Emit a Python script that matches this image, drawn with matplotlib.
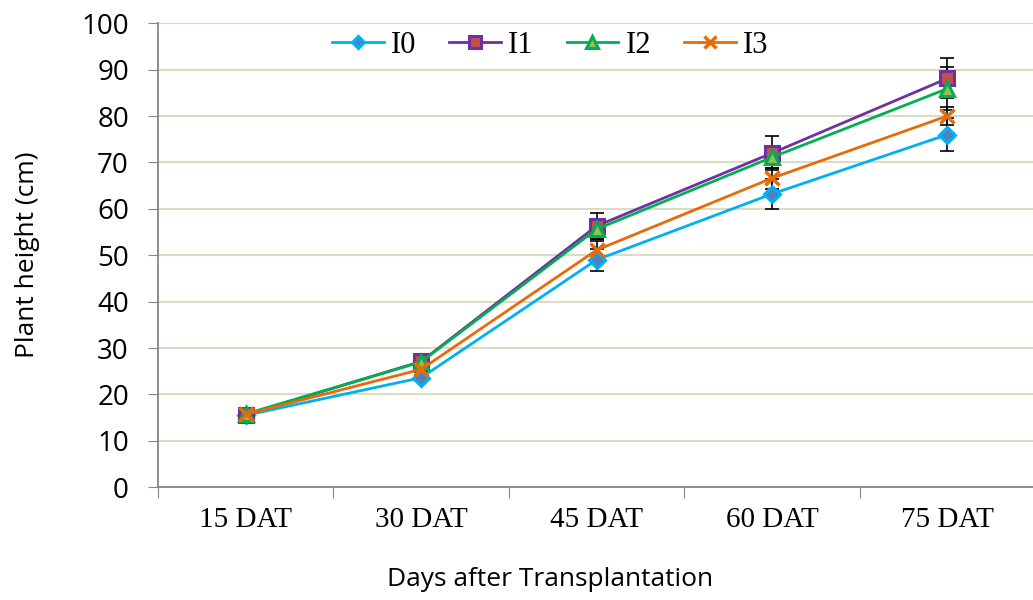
import matplotlib
matplotlib.use("Agg")
import matplotlib.pyplot as plt
import numpy as np

# -----------------------------
# DATA
# -----------------------------
days = ["15 DAT", "30 DAT", "45 DAT", "60 DAT", "75 DAT"]
series_names = ["I0", "I1", "I2", "I3"]

i0 = [15.5, 23.6, 49.0, 63.2, 76.0]
i1 = [15.6, 27.1, 56.3, 72.0, 88.1]
i2 = [15.8, 27.0, 55.6, 71.1, 85.9]
i3 = [15.7, 25.4, 51.1, 66.6, 80.0]

i0_err = [0.3, 0.5, 2.3, 3.2, 3.5]
i1_err = [0.3, 0.5, 2.7, 3.7, 4.3]
i2_err = [0.3, 0.5, 2.2, 2.2, 4.6]
i3_err = [0.3, 0.5, 2.0, 2.3, 2.0]

# -----------------------------
# STYLE
# -----------------------------
styles = [
    dict(color="#00B0F0", marker="D", mfc="#4F81BD", mec="#00B0F0", ms=8, mew=2.2),
    dict(color="#7030A0", marker="s", mfc="#C0504D", mec="#7030A0", ms=10, mew=2.2),
    dict(color="#00B050", marker="^", mfc="#9BBB59", mec="#00B050", ms=10, mew=2.2),
    dict(color="#E46C0A", marker="x", mfc="#E46C0A", mec="#E46C0A", ms=10, mew=2.5),
]

sans = ["Open Sans", "DejaVu Sans"]
serif = ["Liberation Serif", "DejaVu Serif"]

fig = plt.figure(figsize=(10.33, 6), dpi=100)
ax = fig.add_axes([0.153, 0.188, 0.849, 0.7733])

x = np.arange(len(days))
values = [i0, i1, i2, i3]
errors = [i0_err, i1_err, i2_err, i3_err]

for name, y, err, st in zip(series_names, values, errors, styles):
    ax.errorbar(x, y, yerr=err, fmt="none", ecolor="black", elinewidth=1.2,
                capsize=5, capthick=1.2, zorder=2)
for name, y, st in zip(series_names, values, styles):
    ax.plot(x, y, label=name, lw=2, zorder=3, **st)

ax.set_xlim(-0.5, 4.5)
ax.set_ylim(0, 100)
ax.set_yticks(np.arange(0, 101, 10))
ax.set_xticks(np.arange(-0.5, 4.6, 1.0))
ax.set_xticklabels([])
ax.set_xticks(x, minor=True)
ax.set_xticklabels(days, minor=True, fontsize=21, family=serif)
ax.tick_params(axis="x", which="minor", length=0, pad=14)
ax.tick_params(axis="x", which="major", length=8, color="#868686", direction="out")
ax.tick_params(axis="y", length=7, color="#868686", direction="out", labelsize=20, pad=14)
for lab in ax.get_yticklabels():
    lab.set_family(sans)

ax.grid(axis="y", color="#DDD9C3", lw=1.5)
ax.set_axisbelow(True)
for s in ["top", "right"]:
    ax.spines[s].set_visible(False)
for s in ["left", "bottom"]:
    ax.spines[s].set_color("#868686")
    ax.spines[s].set_linewidth(1.3)

ax.set_ylabel("Plant height (cm)", fontsize=19, family=sans)
ax.set_xlabel("Days after Transplantation", fontsize=19, family=sans)
ax.yaxis.set_label_coords(-0.135, 0.5)
ax.xaxis.set_label_coords(0.447, -0.172)

leg = ax.legend(loc="center", bbox_to_anchor=(0.447, 0.953), ncol=4, frameon=False,
                prop={"family": serif, "size": 22}, handlelength=1.7, columnspacing=1.08,
                handletextpad=0.23, markerscale=0.8)

fig.savefig("out.png", dpi=100)
